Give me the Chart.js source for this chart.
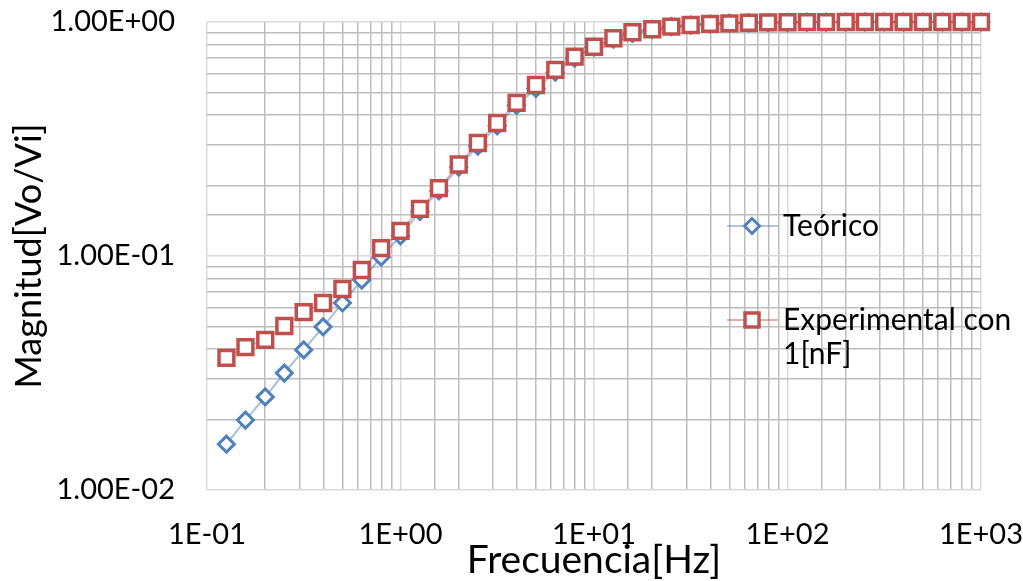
<!DOCTYPE html>
<html>
<head>
<meta charset="utf-8">
<script src="https://cdn.jsdelivr.net/npm/chart.js@4.4.0/dist/chart.umd.min.js"></script>
<style>
  html, body { margin: 0; padding: 0; background: #fff; }
  #wrap { width: 1023px; height: 581px; position: relative; }
</style>
</head>
<body>
<div id="wrap"><canvas id="bode-chart"></canvas></div>
<script>
// Frequencies [Hz]
const frequencies = [0.126, 0.158, 0.2, 0.251, 0.316, 0.398, 0.501, 0.631, 0.794, 1,
  1.26, 1.58, 2, 2.51, 3.16, 3.98, 5.01, 6.31, 7.94, 10,
  12.6, 15.8, 20, 25.1, 31.6, 39.8, 50.1, 63.1, 79.4, 100,
  126, 158, 200, 251, 316, 398, 501, 631, 794, 1000];

// Magnitud, theoretical curve (hidden under red squares above ~1 Hz)
const teorico = [0.0157, 0.0199, 0.025, 0.0316, 0.0397, 0.0498, 0.063, 0.0789, 0.099, 0.122,
  0.155, 0.19, 0.24, 0.295, 0.36, 0.44, 0.52, 0.61, 0.70, 0.78,
  0.845, 0.895, 0.93, 0.955, 0.97, 0.98, 0.988, 0.992, 0.995, 0.997,
  0.998, 0.999, 0.999, 1, 1, 1, 1, 1, 1, 1];

// Magnitud, measured with 1 nF
const experimental = [0.0367, 0.0408, 0.0438, 0.0502, 0.0576, 0.063, 0.0723, 0.0871, 0.108, 0.128,
  0.159, 0.195, 0.246, 0.304, 0.370, 0.451, 0.538, 0.624, 0.711, 0.784,
  0.852, 0.904, 0.931, 0.955, 0.971, 0.981, 0.987, 0.993, 0.996, 0.998,
  0.999, 0.999, 1, 1, 1, 1, 1, 1, 1, 1];

const xTickLabels = ['1E-01', '1E+00', '1E+01', '1E+02', '1E+03'];
const yTickLabels = ['1.00E-02', '1.00E-01', '1.00E+00'];
const seriesNames = ['Teórico', ['Experimental con', '1[nF]']];

const BLUE = '#4f81bd';
const RED = '#c0504d';

function isDecade(v) {
  const e = Math.log10(v);
  return Math.abs(e - Math.round(e)) < 1e-6;
}
function gridColor(c) {
  return isDecade(c.tick.value) ? '#d9d9d9' : '#bdbdbd';
}

Chart.defaults.font.family = 'Lato';
Chart.defaults.color = '#000';

// legend drawn by hand so the long label can wrap on two lines
const sideLegend = {
  id: 'sideLegend',
  afterDraw(chart) {
    const ctx = chart.ctx;
    const entries = [
      { y: 226, color: BLUE, line: 'rgba(79,129,189,0.6)', style: 'diamond', text: seriesNames[0] },
      { y: 320, color: RED, line: 'rgba(192,80,77,0.6)', style: 'square', text: seriesNames[1] }
    ];
    ctx.save();
    entries.forEach(e => {
      ctx.strokeStyle = e.line;
      ctx.lineWidth = 1.5;
      ctx.beginPath();
      ctx.moveTo(727, e.y);
      ctx.lineTo(778, e.y);
      ctx.stroke();
      ctx.fillStyle = '#fff';
      ctx.strokeStyle = e.color;
      ctx.beginPath();
      if (e.style === 'diamond') {
        ctx.lineWidth = 3;
        ctx.moveTo(752, e.y - 7.5);
        ctx.lineTo(759.5, e.y);
        ctx.lineTo(752, e.y + 7.5);
        ctx.lineTo(744.5, e.y);
        ctx.closePath();
      } else {
        ctx.lineWidth = 3.5;
        ctx.rect(745, e.y - 7, 14, 14);
      }
      ctx.fill();
      ctx.stroke();
      ctx.fillStyle = '#000';
      ctx.font = '30px Lato';
      ctx.textBaseline = 'middle';
      ctx.textAlign = 'left';
      const lines = Array.isArray(e.text) ? e.text : [e.text];
      lines.forEach((t, i) => ctx.fillText(t, 783, e.y + i * 34));
    });
    ctx.restore();
  }
};

const ctx = document.getElementById('bode-chart').getContext('2d');
const bodeChart = new Chart(ctx, {
  type: 'line',
  data: {
    datasets: [{
      label: 'Teórico',
      data: frequencies.map((f, i) => ({ x: f, y: teorico[i] })),
      borderColor: 'rgba(79,129,189,0.5)',
      borderWidth: 2,
      pointStyle: 'rectRot',
      pointRadius: 8,
      pointBorderWidth: 3,
      pointBorderColor: BLUE,
      pointBackgroundColor: '#fff',
      clip: false,
      order: 2
    }, {
      label: 'Experimental con 1[nF]',
      data: frequencies.map((f, i) => ({ x: f, y: experimental[i] })),
      borderColor: 'rgba(192,80,77,0.5)',
      borderWidth: 1.5,
      pointStyle: 'rect',
      pointRadius: 10.5,
      pointBorderWidth: 3.5,
      pointBorderColor: RED,
      pointBackgroundColor: '#fff',
      clip: false,
      order: 1
    }]
  },
  options: {
    responsive: true,
    maintainAspectRatio: false,
    animation: false,
    layout: { padding: { left: 0, right: 42, top: 22, bottom: 0 } },
    plugins: {
      legend: { display: false },
      tooltip: { enabled: false }
    },
    scales: {
      x: {
        type: 'logarithmic',
        min: 0.1,
        max: 1000,
        afterFit(scale) {
          scale.height = 91;
          scale.paddingLeft = 0;
          scale.paddingRight = 0;
        },
        border: { display: false },
        grid: { color: gridColor, lineWidth: 1.5, drawTicks: false },
        ticks: {
          autoSkip: false,
          maxRotation: 0,
          padding: 27,
          font: { size: 29 },
          callback: (v) => isDecade(v) ? xTickLabels[Math.round(Math.log10(v)) + 1] : ''
        },
        title: {
          display: true,
          text: 'Frecuencia[Hz]',
          font: { size: 39 },
          padding: { top: 0, bottom: -3 }
        }
      },
      y: {
        type: 'logarithmic',
        min: 0.01,
        max: 1,
        afterFit(scale) {
          scale.width = 207;
          scale.paddingTop = 0;
          scale.paddingBottom = 0;
        },
        border: { display: false },
        grid: { color: gridColor, lineWidth: 1.5, drawTicks: false },
        ticks: {
          autoSkip: false,
          padding: 32,
          font: { size: 29 },
          callback: (v) => isDecade(v) ? yTickLabels[Math.round(Math.log10(v)) + 2] : ''
        },
        title: {
          display: true,
          text: 'Magnitud[Vo/Vi]',
          font: { size: 36 },
          padding: { top: 8, bottom: 0 }
        }
      }
    }
  },
  plugins: [sideLegend]
});
</script>
</body>
</html>
